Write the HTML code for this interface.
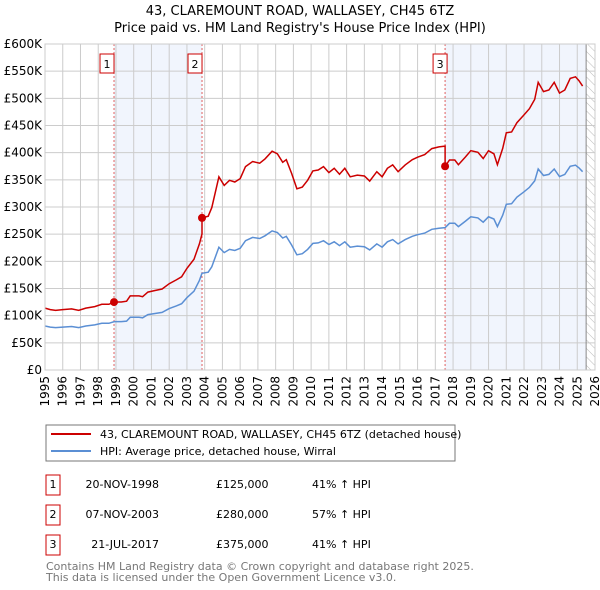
<!DOCTYPE html>
<html><head><meta charset="utf-8"><style>
body{margin:0;background:#fff;width:600px;height:590px;overflow:hidden;font-family:"Liberation Sans","DejaVu Sans",sans-serif;}
svg{display:block}
</style></head><body>
<svg id="c" width="600" height="590" xmlns="http://www.w3.org/2000/svg" font-family="DejaVu Sans, Liberation Sans, sans-serif">
<defs><pattern id="hatch" width="6" height="6" patternUnits="userSpaceOnUse" patternTransform="rotate(-45)"><line x1="0" y1="0" x2="0" y2="6" stroke="#bbb" stroke-width="1"/></pattern></defs>
<text x="300" y="15" text-anchor="middle" font-size="13" fill="#000">43, CLAREMOUNT ROAD, WALLASEY, CH45 6TZ</text>
<text x="300" y="32" text-anchor="middle" font-size="13" fill="#000">Price paid vs. HM Land Registry's House Price Index (HPI)</text>
<g id="plot"></g>
<g>
<rect x="46" y="425" width="409" height="36" fill="#fff" stroke="#777"/>
<line x1="51" y1="434" x2="91" y2="434" stroke="#cc0000" stroke-width="2"/>
<text x="100" y="438" font-size="11">43, CLAREMOUNT ROAD, WALLASEY, CH45 6TZ (detached house)</text>
<line x1="51" y1="451" x2="91" y2="451" stroke="#5b8fd4" stroke-width="2"/>
<text x="100" y="455" font-size="11">HPI: Average price, detached house, Wirral</text>
</g>
<g font-size="11">
<rect x="46" y="475" width="14" height="20" fill="#fff" stroke="#c00"/><text x="53" y="488" text-anchor="middle">1</text>
<text x="159" y="488" text-anchor="end">20-NOV-1998</text>
<text x="216" y="488">£125,000</text>
<text x="312" y="488">41% ↑ HPI</text>
<rect x="46" y="505" width="14" height="20" fill="#fff" stroke="#c00"/><text x="53" y="518" text-anchor="middle">2</text>
<text x="159" y="518" text-anchor="end">07-NOV-2003</text>
<text x="216" y="518">£280,000</text>
<text x="312" y="518">57% ↑ HPI</text>
<rect x="46" y="535" width="14" height="20" fill="#fff" stroke="#c00"/><text x="53" y="548" text-anchor="middle">3</text>
<text x="159" y="548" text-anchor="end">21-JUL-2017</text>
<text x="216" y="548">£375,000</text>
<text x="312" y="548">41% ↑ HPI</text>
</g>
<text x="46" y="570" font-size="11" fill="#777">Contains HM Land Registry data © Crown copyright and database right 2025.</text>
<text x="46" y="581" font-size="11" fill="#777">This data is licensed under the Open Government Licence v3.0.</text>
</svg>
<script>
const hpiYears=[1995.0,1995.3,1995.6,1996,1996.5,1996.9,1997.3,1997.8,1998.2,1998.6,1998.9,1999.3,1999.6,1999.8,2000.3,2000.5,2000.8,2001.2,2001.6,2002,2002.4,2002.7,2003,2003.4,2003.7,2003.85,2004.2,2004.4,2004.8,2005.1,2005.4,2005.7,2006,2006.3,2006.7,2007.1,2007.4,2007.8,2008.1,2008.4,2008.6,2008.9,2009.2,2009.5,2009.8,2010.1,2010.4,2010.7,2011.0,2011.3,2011.6,2011.9,2012.2,2012.6,2013.0,2013.3,2013.7,2014.0,2014.3,2014.6,2014.9,2015.3,2015.7,2016.0,2016.4,2016.8,2017.2,2017.55,2017.8,2018.1,2018.3,2018.7,2019.0,2019.4,2019.7,2020.0,2020.3,2020.5,2020.8,2021.0,2021.3,2021.6,2022.0,2022.3,2022.6,2022.8,2023.1,2023.4,2023.7,2024.0,2024.3,2024.6,2024.9,2025.1,2025.3];
const hpiValues=[81,79,78,79,80,78,81,83,86,86,89,89,90,97,97,96,102,104,106,113,118,122,133,145,165,178,180,190,226,216,222,220,224,238,244,242,247,256,253,243,246,230,212,214,222,233,234,238,231,236,229,236,226,228,227,221,232,226,236,240,232,240,246,249,252,259,261,262,270,270,264,274,282,280,272,282,278,264,285,305,306,318,328,336,348,370,358,360,370,356,360,375,377,372,365];
const saleYears=[1998.89,2003.85,2017.55];
const salePrices=[125,280,375];
const saleLabels=["1","2","3"];
const yTicks=[0,50,100,150,200,250,300,350,400,450,500,550,600];
const xTicks=[1995,1996,1997,1998,1999,2000,2001,2002,2003,2004,2005,2006,2007,2008,2009,2010,2011,2012,2013,2014,2015,2016,2017,2018,2019,2020,2021,2022,2023,2024,2025,2026];

const L=45,R=595,T=44,B=370,X0=1995,X1=2026,YMAX=600,DATA_END=2025.5;
const sx=v=>L+(v-X0)/(X1-X0)*(R-L);
const sy=v=>B-v/YMAX*(B-T);
const NS="http://www.w3.org/2000/svg";
const g=document.getElementById('plot');
function mk(tag,attrs,parent){const e=document.createElementNS(NS,tag);for(const k in attrs)e.setAttribute(k,attrs[k]);(parent||g).appendChild(e);return e;}
function hpiAt(y){for(let i=1;i<hpiYears.length;i++){if(y<=hpiYears[i]){const t=(y-hpiYears[i-1])/(hpiYears[i]-hpiYears[i-1]);return hpiValues[i-1]+t*(hpiValues[i]-hpiValues[i-1]);}}return hpiValues[hpiValues.length-1];}

let bg=mk('rect',{x:L,y:T,width:R-L,height:B-T,fill:'#fff'});


// shaded periods
const shadeEnds=[saleYears[1],DATA_END];
[[saleYears[0],saleYears[1]],[saleYears[2],DATA_END]].forEach((p,i)=>{
  const r=mk('rect',{x:sx(p[0]),y:T,width:sx(p[1])-sx(p[0]),height:B-T,fill:'#eef3fd',opacity:0.8});
  
  
});
const h=mk('rect',{x:sx(DATA_END),y:T,width:R-sx(DATA_END),height:B-T,fill:'url(#hatch)'});


// grid
yTicks.forEach(v=>{
  const ln=mk('line',{x1:L,x2:R,y1:sy(v),y2:sy(v),stroke:'#cccccc','stroke-width':1});
  
  
  const t=mk('text',{x:L-3,y:sy(v)+4,'text-anchor':'end','font-size':12,fill:'#000'});
  t.textContent=v===0?'£0':'£'+v+'K';
  
  
});
xTicks.forEach(v=>{
  const ln=mk('line',{x1:sx(v),x2:sx(v),y1:T,y2:B,stroke:'#cccccc','stroke-width':1});
  
  
  const t=mk('text',{x:0,y:0,'text-anchor':'end','font-size':12,fill:'#000',transform:'translate('+(sx(v)+4)+','+(B+6)+') rotate(-90)'});
  t.textContent=v;
  
  
});
const dl=mk('line',{x1:sx(DATA_END),x2:sx(DATA_END),y1:T,y2:B,stroke:'#888','stroke-width':1});


// sale markers vertical lines
saleYears.forEach((s,i)=>{
  const ln=mk('line',{x1:sx(s),x2:sx(s),y1:T,y2:B,stroke:'#e06060','stroke-width':1,'stroke-dasharray':'2,2'});
  
  
  const bx=mk('rect',{x:sx(s)-14+(i===2?-3:-5)+5,y:T+10,width:14,height:19,fill:'#fff',stroke:'#c00'});
  
  
  const t=mk('text',{x:sx(s)-7+(i===2?-3:-5)+5,y:T+24,'text-anchor':'middle','font-size':11});
  t.textContent=saleLabels[i];
  
  
});
// hpi line
let d='';hpiYears.forEach((y,i)=>{d+=(i?'L':'M')+sx(y).toFixed(1)+','+sy(hpiValues[i]).toFixed(1);});
const hp=mk('path',{d:d,fill:'none',stroke:'#5b8fd4','stroke-width':1.5});


// property line = hpi scaled by latest sale ratio
function ratioAt(y){let k=0;for(let i=0;i<saleYears.length;i++){if(y>=saleYears[i])k=i;}return salePrices[k]/hpiAt(saleYears[k]);}
let pts=[];
hpiYears.forEach((y,i)=>{
  saleYears.forEach((s,k)=>{if(i>0&&hpiYears[i-1]<s&&y>=s){const hv=hpiAt(s);if(k>0)pts.push([s,hv*salePrices[k-1]/hpiAt(saleYears[k-1])]);pts.push([s,salePrices[k]]);}});
  pts.push([y,hpiValues[i]*ratioAt(y)]);
});
let d2='';pts.forEach((p,i)=>{d2+=(i?'L':'M')+sx(p[0]).toFixed(1)+','+sy(p[1]).toFixed(1);});
const pp=mk('path',{d:d2,fill:'none',stroke:'#cc0000','stroke-width':1.5});


saleYears.forEach((s,i)=>{
  const c=mk('circle',{cx:sx(s),cy:sy(salePrices[i]),r:4,fill:'#cc0000'});
  
  
});
const fr=mk('rect',{x:L,y:T,width:R-L,height:B-T,fill:'none',stroke:'#ccc'});


</script>
</body></html>
